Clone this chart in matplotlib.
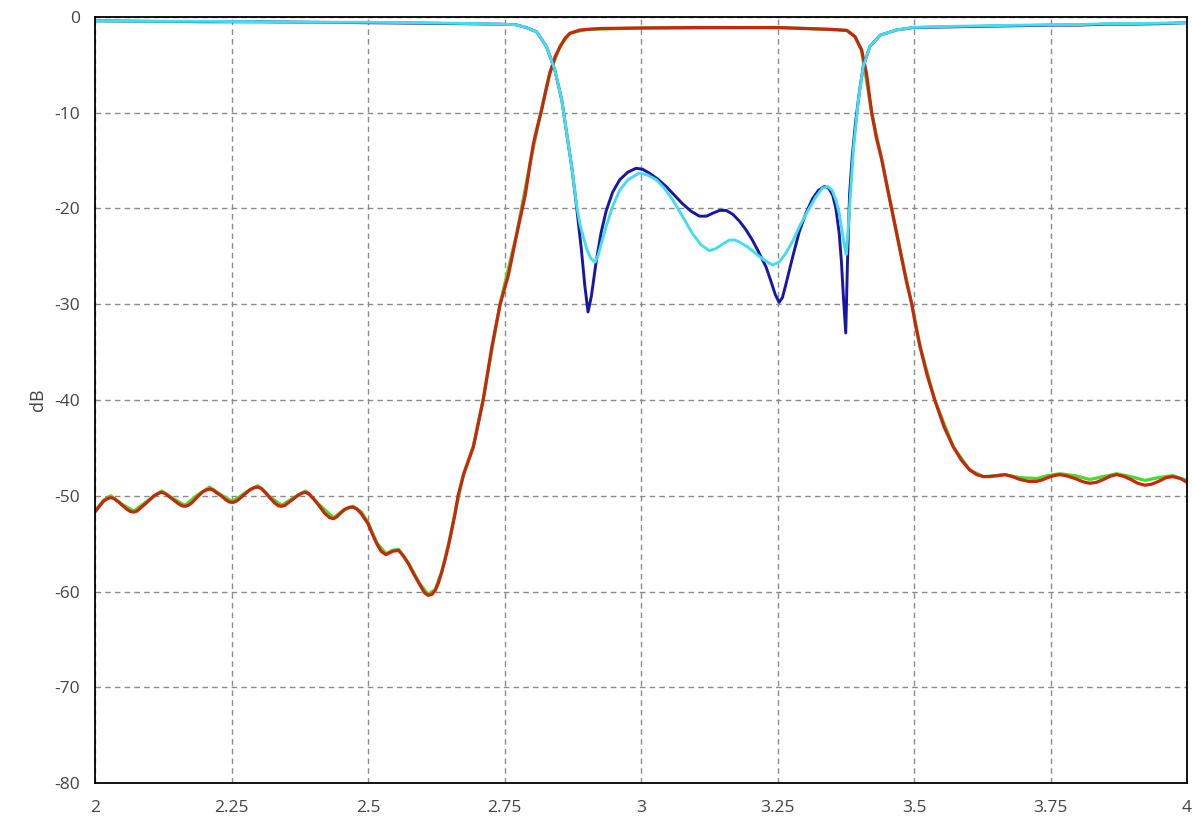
import matplotlib
matplotlib.use("Agg")
import matplotlib.pyplot as plt

# frequency axis values (GHz) and dB values

s11_x = [2.0, 2.1, 2.2, 2.3, 2.4, 2.5, 2.6, 2.7, 2.74, 2.77, 2.79, 2.809, 2.827, 2.842, 2.855,
         2.864, 2.873, 2.882, 2.891, 2.897, 2.903, 2.909, 2.918, 2.927, 2.936, 2.948,
         2.961, 2.976, 2.991, 3.003, 3.015, 3.03, 3.046, 3.061, 3.076, 3.092, 3.107, 3.12,
         3.131, 3.144, 3.156, 3.168, 3.18, 3.192, 3.204, 3.216, 3.229, 3.238, 3.246, 3.253,
         3.259, 3.265, 3.278, 3.29, 3.302, 3.314, 3.325, 3.336, 3.344, 3.351, 3.357, 3.363,
         3.367, 3.371, 3.375, 3.378, 3.382, 3.387, 3.393, 3.4, 3.407, 3.419, 3.438, 3.468,
         3.5, 3.55, 3.6, 3.65, 3.7, 3.75, 3.8, 3.85, 3.9, 3.95, 4.0]
s11_y = [-0.4, -0.45, -0.5, -0.5, -0.55, -0.6, -0.65, -0.72, -0.75, -0.8, -1.1, -1.55, -3.1, -5.5, -8.7,
         -12.2, -15.6, -19.8, -24.4, -28.0, -30.8, -29.2, -25.5, -22.5, -20.3, -18.3,
         -17.0, -16.2, -15.8, -15.9, -16.3, -16.9, -17.7, -18.6, -19.5, -20.3, -20.8, -20.8,
         -20.5, -20.2, -20.2, -20.6, -21.3, -22.2, -23.3, -24.6, -26.1, -27.6, -29.0, -29.8,
         -29.3, -28.0, -25.0, -22.4, -20.5, -19.0, -18.1, -17.7, -17.9, -18.6, -20.0, -22.6,
         -25.5, -29.5, -33.0, -26.0, -18.5, -14.5, -11.0, -7.8, -5.2, -3.1, -1.9, -1.35,
         -1.1, -1.05, -1.0, -0.95, -0.9, -0.85, -0.85, -0.75, -0.75, -0.7, -0.6]

s22_x = [2.0, 2.1, 2.2, 2.3, 2.4, 2.5, 2.6, 2.7, 2.74, 2.77, 2.79, 2.809, 2.827, 2.842, 2.855,
         2.864, 2.873, 2.882, 2.888, 2.894, 2.901, 2.908, 2.916, 2.922, 2.929, 2.936, 2.948,
         2.961, 2.976, 2.997, 3.012, 3.028, 3.043, 3.058, 3.076, 3.094, 3.11, 3.125, 3.137,
         3.15, 3.162, 3.172, 3.18, 3.195, 3.21, 3.226, 3.241, 3.253, 3.265, 3.278, 3.29,
         3.305, 3.320, 3.332, 3.342, 3.35, 3.357, 3.363, 3.369, 3.373, 3.376, 3.379, 3.383,
         3.389, 3.398, 3.407, 3.419, 3.438, 3.468, 3.5, 3.55, 3.6, 3.65, 3.7, 3.75,
         3.8, 3.85, 3.9, 3.95, 4.0]
s22_y = [-0.4, -0.45, -0.45, -0.5, -0.55, -0.55, -0.6, -0.7, -0.75, -0.8, -1.1, -1.55, -3.1, -5.5, -8.7,
         -12.2, -15.6, -19.6, -21.6, -22.9, -24.3, -25.2, -25.6, -24.8, -23.3, -21.9, -19.8,
         -18.1, -17.0, -16.3, -16.5, -17.0, -17.9, -19.1, -20.8, -22.6, -23.8, -24.4, -24.2,
         -23.7, -23.3, -23.3, -23.5, -24.0, -24.7, -25.4, -25.9, -25.6, -24.7, -23.4, -21.9,
         -20.3, -18.8, -17.9, -17.7, -18.1, -19.1, -20.5, -22.6, -24.0, -24.8, -22.5, -19.1,
         -13.9, -8.7, -5.2, -3.1, -1.9, -1.35, -1.08, -1.0, -0.95, -0.9, -0.85, -0.8,
         -0.8, -0.7, -0.7, -0.65, -0.6]

s21_x = [2.0, 2.008, 2.016, 2.023, 2.029, 2.035, 2.043, 2.05, 2.058, 2.065, 2.071, 2.077, 2.085,
         2.097, 2.108, 2.116, 2.122, 2.128, 2.135, 2.143, 2.152, 2.159, 2.165, 2.171, 2.178,
         2.188, 2.197, 2.204, 2.21, 2.216, 2.223, 2.231, 2.239, 2.246, 2.252, 2.258, 2.265,
         2.275, 2.284, 2.292, 2.298, 2.304, 2.311, 2.32, 2.329, 2.336, 2.342, 2.348, 2.355,
         2.364, 2.373, 2.38, 2.386, 2.392, 2.4, 2.41, 2.42, 2.43, 2.437, 2.443, 2.45, 2.458,
         2.466, 2.473, 2.48, 2.488, 2.495, 2.5, 2.508,
         2.516, 2.524, 2.533, 2.545, 2.556, 2.565, 2.574, 2.584, 2.594, 2.603, 2.610, 2.617,
         2.623, 2.629, 2.635, 2.641, 2.647, 2.653, 2.659, 2.665, 2.675, 2.693, 2.711, 2.727,
         2.742, 2.757, 2.772, 2.788, 2.797, 2.803, 2.81, 2.818, 2.826, 2.833, 2.843, 2.852,
         2.861, 2.87, 2.888, 2.925, 3.0, 3.1, 3.2, 3.25, 3.3, 3.35, 3.377, 3.392, 3.404,
         3.413, 3.4225, 3.431, 3.441, 3.45, 3.459, 3.468, 3.477, 3.486, 3.496, 3.503,
         3.511, 3.524, 3.538, 3.555, 3.572, 3.587, 3.602, 3.615, 3.627, 3.639, 3.653, 3.667,
         3.68, 3.694, 3.71, 3.725, 3.735, 3.745, 3.756, 3.767, 3.778, 3.795, 3.81, 3.822,
         3.834, 3.847, 3.86, 3.871, 3.883, 3.897, 3.91, 3.923, 3.935, 3.948, 3.962, 3.974,
         3.988, 4.0]
s21_y = [-51.7, -51.1, -50.55, -50.3, -50.2, -50.3, -50.65, -51.0, -51.4, -51.65, -51.7, -51.6, -51.2,
         -50.6, -50.0, -49.75, -49.65, -49.75, -50.05, -50.4, -50.8, -51.05, -51.1, -51.0, -50.7,
         -50.1, -49.6, -49.4, -49.3, -49.4, -49.7, -50.0, -50.4, -50.65, -50.7, -50.6, -50.3,
         -49.8, -49.35, -49.15, -49.1, -49.2, -49.6, -50.2, -50.75, -51.05, -51.1, -51.0, -50.7,
         -50.3, -49.9, -49.7, -49.65, -49.8, -50.3, -51.0, -51.8, -52.3, -52.4, -52.2, -51.8, -51.4,
         -51.2, -51.2, -51.4, -51.9, -52.5, -52.9, -54.0,
         -55.0, -55.8, -56.15, -55.8, -55.7, -56.3, -57.1, -58.2, -59.2, -60.1, -60.4, -60.3,
         -59.9, -59.1, -58.0, -56.7, -55.3, -53.7, -52.0, -50.0, -47.8, -44.9, -40.0, -34.4,
         -30.0, -27.0, -22.8, -18.6, -15.3, -13.2, -11.5, -9.7, -7.6, -5.9, -4.1, -3.1,
         -2.2, -1.7, -1.36, -1.2, -1.15, -1.1, -1.1, -1.1, -1.2, -1.3, -1.4, -2.05, -3.45,
         -5.9, -10.0, -12.6, -14.9, -17.5, -20.0, -22.5, -25.05, -27.6, -30.0, -32.2,
         -34.4, -37.4, -40.0, -42.8, -44.9, -46.3, -47.3, -47.8, -48.0, -48.0, -47.9, -47.8,
         -48.0, -48.3, -48.5, -48.5, -48.35, -48.1, -47.9, -47.8, -47.9, -48.2, -48.55, -48.7,
         -48.6, -48.3, -47.95, -47.8, -47.95, -48.3, -48.7, -48.9, -48.8, -48.5, -48.1, -48.0,
         -48.2, -48.6]

s12_x = [2.0, 2.015, 2.029, 2.05, 2.071, 2.097, 2.122, 2.143, 2.165, 2.188, 2.21, 2.231, 2.252,
         2.275, 2.298, 2.32, 2.342, 2.364, 2.386, 2.41, 2.437, 2.455, 2.473, 2.488, 2.5, 2.516,
         2.533, 2.545, 2.556, 2.574, 2.594, 2.610, 2.623, 2.635, 2.647, 2.659, 2.675, 2.693,
         2.711, 2.742, 2.772, 2.797, 2.818, 2.833, 2.852, 2.87, 2.9, 3.0, 3.25, 3.35, 3.377,
         3.392, 3.404, 3.4225, 3.441, 3.459, 3.477, 3.496, 3.511, 3.538, 3.572, 3.602, 3.627, 3.667,
         3.694, 3.725, 3.745, 3.767, 3.795, 3.822, 3.847, 3.871, 3.897, 3.923, 3.948, 3.974, 4.0]
s12_y = [-51.6, -50.5, -50.0, -50.9, -51.6, -50.5, -49.5, -50.3, -51.0, -49.9, -49.1, -49.9, -50.6,
         -49.7, -48.95, -50.1, -51.0, -50.2, -49.5, -50.9, -52.3, -51.5, -51.1, -51.7, -52.8, -54.9,
         -56.05, -55.7, -55.6, -57.0, -59.1, -60.3, -59.8, -57.9, -55.2, -51.9, -47.7, -44.8,
         -39.9, -29.9, -22.7, -15.2, -9.6, -5.8, -3.0, -1.7, -1.3, -1.15, -1.1, -1.3, -1.4,
         -2.05, -3.45, -10.0, -14.9, -20.0, -25.0, -30.0, -34.4, -40.0, -44.9, -47.3, -48.0, -47.8,
         -48.1, -48.2, -47.9, -47.7, -47.9, -48.3, -48.0, -47.7, -48.0, -48.4, -48.1, -47.9, -48.4]

x_ticks = [2, 2.25, 2.5, 2.75, 3, 3.25, 3.5, 3.75, 4]
x_tick_labels = ["2", "2.25", "2.5", "2.75", "3", "3.25", "3.5", "3.75", "4"]
y_ticks = [0, -10, -20, -30, -40, -50, -60, -70, -80]

plt.rcParams['font.family'] = ['Open Sans', 'DejaVu Sans']
plt.rcParams['axes.unicode_minus'] = False

fig = plt.figure(figsize=(11.92, 8.21), dpi=100)
ax = fig.add_axes([95 / 1192, 38 / 821, 1092 / 1192, 766 / 821])

ax.plot(s12_x, s12_y, color='#4ad92a', linewidth=2.3, solid_joinstyle='round')
ax.plot(s21_x, s21_y, color='#c5280c', linewidth=2.3, solid_joinstyle='round')
ax.plot(s11_x, s11_y, color='#1717a6', linewidth=2.1, solid_joinstyle='round')
ax.plot(s22_x, s22_y, color='#45dcec', linewidth=2.1, solid_joinstyle='round')

ax.set_xlim(2, 4)
ax.set_ylim(-80, 0)
ax.set_xticks(x_ticks)
ax.set_xticklabels(x_tick_labels)
ax.set_yticks(y_ticks)
ax.tick_params(length=0, labelsize=12.5, colors='#444444')
ax.tick_params(axis='x', pad=12)
ax.tick_params(axis='y', pad=11)

ax.grid(True, color='#8a8a8a', linestyle=(0, (4, 3)), linewidth=1)
ax.set_axisbelow(True)
for spine in ax.spines.values():
    spine.set_color('black')
    spine.set_linewidth(1.3)

ax.set_ylabel('dB', fontsize=13, color='#444444', labelpad=5)

fig.savefig('out.png', dpi=100)
